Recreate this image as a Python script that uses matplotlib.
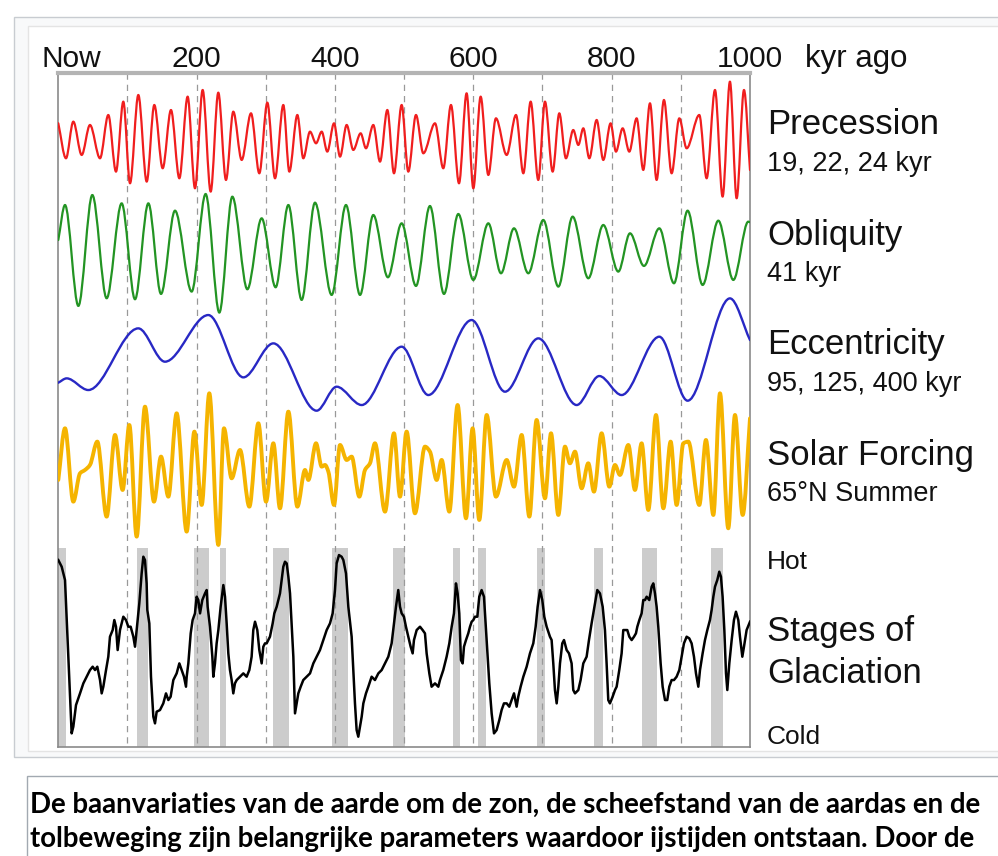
import numpy as np
import matplotlib
matplotlib.use("Agg")
import matplotlib.pyplot as plt
from matplotlib.path import Path
from matplotlib.patches import PathPatch, Rectangle

W, H = 998, 856

# ---------------- data (time in kyr ago, values in relative units) ----------------
prec_t = [0, 11.1, 21.7, 33.8, 45.8, 60.3, 72.3, 83.4, 94.0, 103.7, 115.7, 127.8, 138.8, 150.9,
          162.9, 175.0, 187.0, 197.6, 208.7, 220.3, 231.3, 242.4, 253.0, 265.1, 278.6, 290.6,
          302.2, 313.3, 325.3, 334.0, 345.6, 354.2, 363.9, 372.6, 380.8, 388.9, 398.6, 407.3,
          416.9, 426.5, 437.1, 444.8, 455.4, 465.1, 475.7, 485.3, 496.4, 506.0, 517.1, 527.7,
          544.6, 556.6, 567.7, 579.3, 590.3, 600.0, 610.6, 621.7, 632.7, 648.2, 661.7, 672.3,
          682.9, 693.9, 703.6, 714.7, 724.3, 733.9, 744.5, 751.8, 759.0, 767.7, 778.3, 787.9,
          798.5, 806.2, 815.9, 825.5, 836.1, 845.7, 855.4, 865.0, 875.6, 886.7, 897.8, 908.4,
          926.7, 937.3, 949.4, 960.4, 971.0, 980.7, 991.3, 1000]
prec_v = [0.45, -0.60, 0.50, -0.50, 0.40, -0.60, 0.70, -1.00, 1.10, -1.35, 1.30, -1.30, 1.00, -0.90,
          0.85, -1.20, 1.25, -1.50, 1.45, -1.60, 1.37, -1.25, 0.80, -0.65, 0.75, -1.05,
          1.07, -1.20, 1.00, -1.00, 0.70, -0.60, 0.20, -0.15, 0.20, -0.40, 0.45, -0.55,
          0.40, -0.35, 0.15, -0.30, 0.40, -0.70, 0.85, -1.05, 1.00, -1.00, 0.70, -0.45,
          0.45, -0.90, 1.00, -1.35, 1.35, -1.50, 1.25, -1.10, 0.60, -0.50, 0.70, -1.05,
          1.10, -1.25, 1.10, -1.00, 0.75, -0.60, 0.25, -0.20, 0.30, -0.60, 0.55, -0.65,
          0.45, -0.40, 0.30, -0.40, 0.60, -0.95, 1.05, -1.25, 1.15, -1.05, 0.60, -0.30,
          0.70, -1.20, 1.45, -1.75, 1.70, -1.80, 1.45, -0.95]

obl_t = [0, 9.7, 29.0, 49.2, 69.9, 91.6, 110.9, 130.2, 148.5, 168.7, 192.8, 213.0, 232.8, 251.6,
         273.3, 294.0, 314.2, 332.6, 351.8, 371.1, 395.2, 415.9, 436.2, 455.4, 476.5, 496.4,
         517.1, 537.3, 557.6, 578.3, 600.0, 621.7, 640.0, 658.8, 679.5, 701.2, 722.9, 743.6,
         766.2, 787.9, 809.6, 826.5, 846.7, 868.9, 890.1, 909.8, 931.5, 954.2, 975.9, 997.5, 1000]
obl_v = [0.25, 1.30, -1.73, 1.60, -1.50, 1.35, -1.53, 1.35, -1.37, 1.13, -1.30, 1.63, -1.93, 1.55,
         -1.23, 0.90, -1.17, 1.30, -1.55, 1.37, -1.40, 1.30, -1.40, 1.00, -0.87, 0.75,
         -1.13, 1.27, -1.37, 1.03, -0.95, 0.75, -0.75, 0.60, -0.75, 0.85, -1.15, 0.95,
         -0.90, 0.70, -0.70, 0.45, -0.53, 0.60, -1.05, 1.13, -1.10, 0.83, -0.95, 0.80, 0.78]

ecc_t = [0, 12.1, 43.4, 115.7, 154.2, 216.9, 267.5, 310.9, 373.5, 402.4, 438.6, 496.4, 534.9,
         597.6, 645.8, 694.0, 749.4, 782.1, 814.4, 868.9, 909.8, 971.0, 1000]
ecc_v = [-0.78, -0.65, -1.00, 0.85, -0.15, 1.25, -0.62, 0.40, -1.62, -0.90, -1.45, 0.30, -1.15,
         1.10, -1.05, 0.55, -1.45, -0.58, -1.15, 0.60, -1.32, 1.75, 0.50]

sol_t = [0, 9.7, 21.7, 31.4, 38.6, 45.8, 56.4, 69.9, 82.0, 93.0, 102.7, 113.3, 125.3, 138.3,
         148.5, 159.1, 171.1, 185.6, 196.7, 207.3, 218.3, 231.4, 239.5, 250.6, 262.7, 276.2,
         289.2, 300.3, 310.9, 320.5, 332.6, 345.6, 356.7, 361.5, 372.6, 380.8, 385.6, 390.4,
         398.6, 407.3, 416.9, 424.1, 435.2, 443.4, 450.6, 457.8, 472.3, 485.3, 494.0, 503.6,
         515.6, 530.1, 537.3, 547.0, 554.2, 565.3, 577.3, 589.4, 599.0, 608.6, 619.3, 632.7,
         648.2, 658.8, 669.9, 681.0, 691.5, 703.6, 712.3, 722.9, 732.5, 739.7, 747.0, 756.6,
         766.2, 774.4, 785.5, 796.6, 804.8, 812.0, 824.1, 833.7, 843.3, 853.0, 864.1, 874.7,
         885.3, 893.9, 903.6, 910.8, 926.7, 936.3, 947.0, 956.6, 968.6, 978.3, 989.4, 1000]
sol_v = [-0.50, 1.05, -1.15, -0.30, -0.20, -0.05, 0.65, -1.60, 0.85, -0.80, 1.15, -2.20, 1.70, -1.15,
         0.20, -1.00, 1.50, -2.05, 0.95, -1.25, 2.10, -2.45, 1.05, -0.45, 0.40, -1.30,
         1.20, -1.15, 0.60, -1.35, 1.55, -1.30, -0.20, -0.50, 0.60, -0.10, -0.05, -0.25,
         -1.25, 0.55, 0.10, 0.20, -1.00, -0.20, 0.00, 0.60, -1.45, 0.90, -1.00, 0.95,
         -1.50, 0.50, 0.35, -0.50, 0.10, -1.45, 1.75, -1.65, 1.05, -1.70, 1.45, -1.00,
         0.10, -0.70, 0.85, -1.60, 1.30, -1.05, 0.90, -1.55, 0.50, 0.00, 0.35, -0.75,
         0.00, -0.85, 0.90, -0.70, -0.05, -0.35, 0.55, -0.80, 0.60, -1.40, 1.45, -1.35,
         0.65, -1.25, 0.60, 0.65, -1.25, 0.70, -1.55, 2.10, -1.95, 1.45, -1.55, 1.35]

glac_t = [0.0, 4.9, 9.7, 19.3, 21.7, 25.6, 31.4, 36.2, 41.0, 45.8, 49.7, 53.1, 56.4, 60.3, 62.7,
          65.1, 69.0, 72.3, 74.7, 78.6, 81.0, 83.4, 85.8, 89.2, 94.0, 97.9, 101.2, 104.6, 108.5,
          110.9, 113.3, 117.1, 120.5, 122.9, 125.3, 127.7, 128.7, 131.6, 134.0, 137.4, 139.8,
          142.2, 147.0, 151.8, 155.7, 159.1, 162.4, 166.3, 168.7, 171.1, 175.0, 178.3, 181.7,
          184.6, 185.6, 188.0, 191.4, 194.2, 197.6, 200.0, 202.4, 204.9, 208.2, 212.1, 214.5,
          215.9, 219.3, 222.7, 224.1, 226.5, 228.9, 231.4, 234.7, 238.6, 241.0, 243.4, 245.8,
          248.2, 250.6, 253.0, 255.4, 257.9, 262.7, 267.5, 272.3, 276.2, 279.5, 281.9, 284.4,
          287.7, 290.6, 294.0, 296.4, 298.8, 301.2, 306.0, 309.9, 312.3, 315.7, 318.1, 320.5,
          322.9, 325.3, 327.7, 330.2, 332.6, 335.0, 339.8, 342.2, 344.6, 347.0, 350.4, 354.2,
          359.0, 363.9, 368.7, 373.5, 378.3, 383.2, 388.0, 392.8, 396.6, 400.0, 402.4, 405.8,
          409.6, 412.1, 415.9, 419.3, 424.1, 428.9, 431.3, 433.7, 436.2, 438.6, 441.0, 444.8,
          448.2, 453.0, 457.8, 462.7, 467.5, 472.3, 477.1, 481.9,
          488.2, 491.5, 494.0, 496.4, 499.7, 502.6, 506.0, 509.4, 512.3, 514.2, 518.1, 522.9,
          526.7, 530.1, 532.5, 536.4, 539.7, 544.6, 549.4, 551.8, 556.6, 561.4, 565.3, 568.7,
          572.0, 574.9, 577.3, 579.7, 582.1, 584.6, 586.5, 589.4, 592.7, 595.2, 597.6, 600.0,
          602.4, 605.8, 608.6, 612.0, 615.4, 617.8, 620.2, 623.1, 626.5, 629.9, 633.7, 637.6,
          640.9, 644.3, 648.2, 652.0, 655.4, 658.8, 662.6, 665.0, 668.4, 672.3, 677.1, 681.9,
          686.7, 690.1, 693.0, 696.4, 699.7, 702.6, 706.0, 710.8, 713.2, 715.6, 718.0, 720.5,
          722.9, 725.3, 728.6, 731.1, 734.9, 738.3, 742.1, 744.5, 747.0, 751.8, 755.1, 759.0,
          763.8, 767.2, 771.0, 775.9, 779.2, 783.1, 787.0, 790.3, 792.7, 795.1, 797.5, 801.4,
          804.8, 807.2, 811.0, 814.4, 816.8, 819.2, 822.6, 825.5, 828.9, 832.3, 835.1, 837.1,
          840.0, 843.3, 845.7, 848.2, 850.6, 854.4, 857.8, 860.2, 862.6, 865.0, 867.4, 870.8,
          873.7, 877.1, 880.4, 883.3, 886.7, 890.1, 893.9, 897.8, 901.2, 904.5, 908.4, 912.2,
          915.6, 919.0, 921.9, 925.3, 927.7, 931.5, 934.9, 938.3, 942.1, 944.5, 947.0, 949.4,
          952.7, 955.6, 958.0, 960.4, 962.9, 965.3, 967.2, 970.1, 973.5, 976.8, 979.7, 983.1,
          985.5, 988.9, 991.3, 995.1, 1000.0]
glac_v = [5.60, 5.40, 5.00, 0.40, 0.60, 1.25, 1.60, 1.90, 2.10, 2.30, 2.40, 2.30, 2.40, 2.00, 1.60,
          1.80, 2.30, 2.70, 3.30, 3.50, 3.80, 3.60, 2.90, 3.50, 3.90, 3.80, 3.60, 3.60, 3.30,
          3.00, 3.50, 4.30, 5.20, 5.70, 5.60, 4.90, 4.10, 3.70, 2.10, 0.90, 0.70,
          1.05, 1.10, 1.30, 1.60, 1.40, 1.50, 2.00, 2.10, 2.20, 2.50, 2.30, 2.10,
          1.80, 2.10, 2.50, 3.40, 3.80, 4.00, 4.50, 4.40, 4.00, 4.40, 4.60, 4.70,
          4.20, 3.60, 2.70, 2.10, 2.50, 3.10, 3.50, 4.20, 4.85, 4.50, 3.70, 2.80,
          2.30, 2.00, 1.60, 1.90, 2.00, 2.10, 2.20, 2.10, 2.30, 2.70, 3.50, 3.75,
          3.50, 2.90, 2.50, 3.00, 3.10, 3.10, 3.30, 3.70, 4.00, 4.20, 4.40, 4.60,
          5.00, 5.40, 5.55, 5.50, 5.10, 4.60, 2.70, 1.00, 1.30, 1.60, 1.80, 2.00,
          2.10, 2.20, 2.50, 2.70, 2.90, 3.20, 3.50, 3.70, 4.00, 4.70, 5.50, 5.75,
          5.70, 5.60, 5.20, 4.20, 3.30, 1.30, 0.50, 0.30, 0.60, 0.90, 1.30, 1.60,
          1.80, 2.10, 2.00, 2.20, 2.30, 2.50, 2.70, 3.10,
          4.20, 4.70, 4.20, 4.00, 3.90, 3.60, 3.30, 3.00, 2.80, 3.20, 3.50, 3.60,
          3.50, 3.40, 2.80, 2.20, 1.80, 1.90, 1.80, 2.00, 2.30, 2.70, 3.10, 3.60,
          4.00, 4.90, 4.60, 4.00, 2.60, 2.50, 3.00, 3.20, 3.40, 3.60, 3.75, 3.80,
          3.90, 3.90, 4.50, 4.70, 4.50, 3.70, 2.90, 1.90, 1.00, 0.40, 0.50, 0.80,
          1.10, 1.30, 1.30, 1.20, 1.40, 1.60, 1.20, 1.50, 1.80, 2.10, 2.40, 2.80,
          3.10, 3.60, 4.20, 4.70, 4.40, 3.90, 3.60, 3.30, 3.20, 2.50, 1.70, 1.30,
          1.80, 2.50, 3.10, 3.20, 2.90, 2.80, 2.50, 1.70, 1.60, 1.70, 2.00, 2.50,
          2.70, 3.20, 3.70, 4.30, 4.70, 4.60, 4.20, 3.50, 2.50, 1.40, 1.30, 1.50,
          1.70, 1.80, 2.30, 2.80, 3.50, 3.50, 3.50, 3.30, 3.20, 3.30, 3.40, 3.60,
          3.80, 4.00, 4.40, 4.40, 4.50, 4.40, 4.80, 4.90, 4.60, 4.20, 3.60, 2.50,
          1.80, 1.40, 1.40, 1.80, 2.00, 2.00, 2.10, 2.30, 2.70, 3.10, 3.30, 3.25,
          3.10, 2.70, 2.20, 1.80, 2.30, 2.80, 3.20, 3.50, 3.80, 4.10, 4.50, 4.80,
          5.00, 5.25, 5.10, 4.50, 3.50, 2.20, 1.70, 2.50, 3.20, 3.80, 4.05, 3.80,
          3.30, 2.70, 3.00, 3.50, 3.75]

# interglacial (warm) stages shaded in grey: start, end (kyr ago)
warm_start = [0.0, 113.3, 196.7, 233.8, 310.9, 395.2, 484.3, 571.1, 606.2, 691.5, 774.4, 844.3, 943.1]
warm_end = [11.1, 130.2, 217.9, 242.4, 334.0, 419.3, 501.2, 580.7, 617.8, 703.6, 787.9, 865.0, 960.4]

tick_vals = [0, 200, 400, 600, 800, 1000]
tick_labels = ["Now", "200", "400", "600", "800", "1000"]

# ---------------- helpers ----------------
def fr(x, y):
    return x / W, 1 - y / H


def smooth_path(x, y):
    x = np.asarray(x, float)
    y = np.asarray(y, float)
    n = len(x)
    d = np.diff(y) / np.diff(x)
    m = np.zeros(n)
    m[0], m[-1] = d[0], d[-1]
    for i in range(1, n - 1):
        if d[i - 1] * d[i] > 0:
            m[i] = 2.0 / (1.0 / d[i - 1] + 1.0 / d[i])
    verts = [(x[0], y[0])]
    codes = [Path.MOVETO]
    for i in range(n - 1):
        h = x[i + 1] - x[i]
        verts += [(x[i] + h / 3, y[i] + m[i] * h / 3),
                  (x[i + 1] - h / 3, y[i + 1] - m[i + 1] * h / 3),
                  (x[i + 1], y[i + 1])]
        codes += [Path.CURVE4] * 3
    return Path(verts, codes)


fig = plt.figure(figsize=(W / 100, H / 100), dpi=100)
fig.patch.set_facecolor("white")

# page frames (behind the chart)
fig.patches.append(Rectangle(fr(14, 757), (1000 - 14) / W, (757 - 17) / H, transform=fig.transFigure,
                             facecolor="#f8f9fa", edgecolor="#c8ccd1", lw=1.0, zorder=-3))
fig.patches.append(Rectangle(fr(28, 751), (1000 - 28) / W, (751 - 26) / H, transform=fig.transFigure,
                             facecolor="white", edgecolor="#e4e4e4", lw=1.0, zorder=-2))
fig.patches.append(Rectangle(fr(27, 870), (1000 - 27) / W, (870 - 776) / H, transform=fig.transFigure,
                             facecolor="white", edgecolor="#a2a9b1", lw=1.0, zorder=-2))

# main chart axes: x in kyr, y in screen-like units (top = 73, bottom = 747)
X0, X1, Y0, Y1 = 58.3, 750, 73, 747
ax = fig.add_axes([X0 / W, 1 - Y1 / H, (X1 - X0) / W, (Y1 - Y0) / H])
ax.set_zorder(1)
ax.set_xlim(0, 1000)
ax.set_ylim(Y1, Y0)
ax.set_xticks([])
ax.set_yticks([])
ax.patch.set_alpha(0)
for s in ["left", "right", "bottom"]:
    ax.spines[s].set_color("#8a8a8a")
    ax.spines[s].set_linewidth(1.2)
ax.spines["top"].set_color("#b4b4b4")
ax.spines["top"].set_linewidth(3.0)

U = 33.33  # screen units per data unit

# interglacial shading
for a, b in zip(warm_start, warm_end):
    ax.add_patch(Rectangle((a, 548), b - a, Y1 - 548, facecolor="#cccccc", edgecolor="none", zorder=1))

# dashed guides
ax.vlines(np.arange(100, 1000, 100), Y0, Y1, colors="#999999", linestyles=(0, (5, 4)), lw=0.9, zorder=2)

series = [
    (prec_t, prec_v, 138.3, "#f01e1e", 1.6),
    (obl_t, obl_v, 248.3, "#239423", 1.6),
    (ecc_t, ecc_v, 356.7, "#2828c4", 1.7),
    (sol_t, sol_v, 463.3, "#f5b400", 2.8),
]
for t, v, c, col, lw in series:
    yy = c - U * np.asarray(v)
    ax.add_patch(PathPatch(smooth_path(t, yy), facecolor="none", edgecolor=col, lw=lw,
                           zorder=3, capstyle="round", joinstyle="round"))

ax.plot(glac_t, 746.7 - U * np.asarray(glac_v), color="black", lw=1.8, zorder=4)

# top scale labels
lab_font = dict(family="Liberation Sans", color="#111111")
for v, s in zip(tick_vals, tick_labels):
    xp = X0 + (X1 - X0) * v / 1000.0
    if s == "Now":
        xp = 71
    fig.text(*fr(xp, 67), s, ha="center", va="baseline", fontsize=21.5, **lab_font)
fig.text(*fr(805, 67), "kyr ago", ha="left", va="baseline", fontsize=22.5, **lab_font)

# right-hand labels
big = 25
small = 19.5
LX = 767
fig.text(*fr(LX, 134), "Precession", fontsize=big, va="baseline", **lab_font)
fig.text(*fr(LX, 171), "19, 22, 24 kyr", fontsize=small, va="baseline", **lab_font)
fig.text(*fr(LX, 245), "Obliquity", fontsize=big, va="baseline", **lab_font)
fig.text(*fr(LX, 281), "41 kyr", fontsize=small, va="baseline", **lab_font)
fig.text(*fr(LX, 354), "Eccentricity", fontsize=big, va="baseline", **lab_font)
fig.text(*fr(LX, 391), "95, 125, 400 kyr", fontsize=small, va="baseline", **lab_font)
fig.text(*fr(LX, 465), "Solar Forcing", fontsize=big, va="baseline", **lab_font)
fig.text(*fr(LX, 501), "65°N Summer", fontsize=small, va="baseline", **lab_font)
fig.text(*fr(LX, 569), "Hot", fontsize=19, va="baseline", **lab_font)
fig.text(*fr(LX, 641), "Stages of", fontsize=big, va="baseline", **lab_font)
fig.text(*fr(LX, 683), "Glaciation", fontsize=big, va="baseline", **lab_font)
fig.text(*fr(LX, 744), "Cold", fontsize=19, va="baseline", **lab_font)

# caption
cap_font = dict(family="Lato", weight="bold", color="black", fontsize=19.9)
fig.text(*fr(30, 813), "De baanvariaties van de aarde om de zon, de scheefstand van de aardas en de",
         ha="left", va="baseline", **cap_font)
fig.text(*fr(30, 847), "tolbeweging zijn belangrijke parameters waardoor ijstijden ontstaan. Door de",
         ha="left", va="baseline", **cap_font)

fig.savefig("out.png", dpi=100)
